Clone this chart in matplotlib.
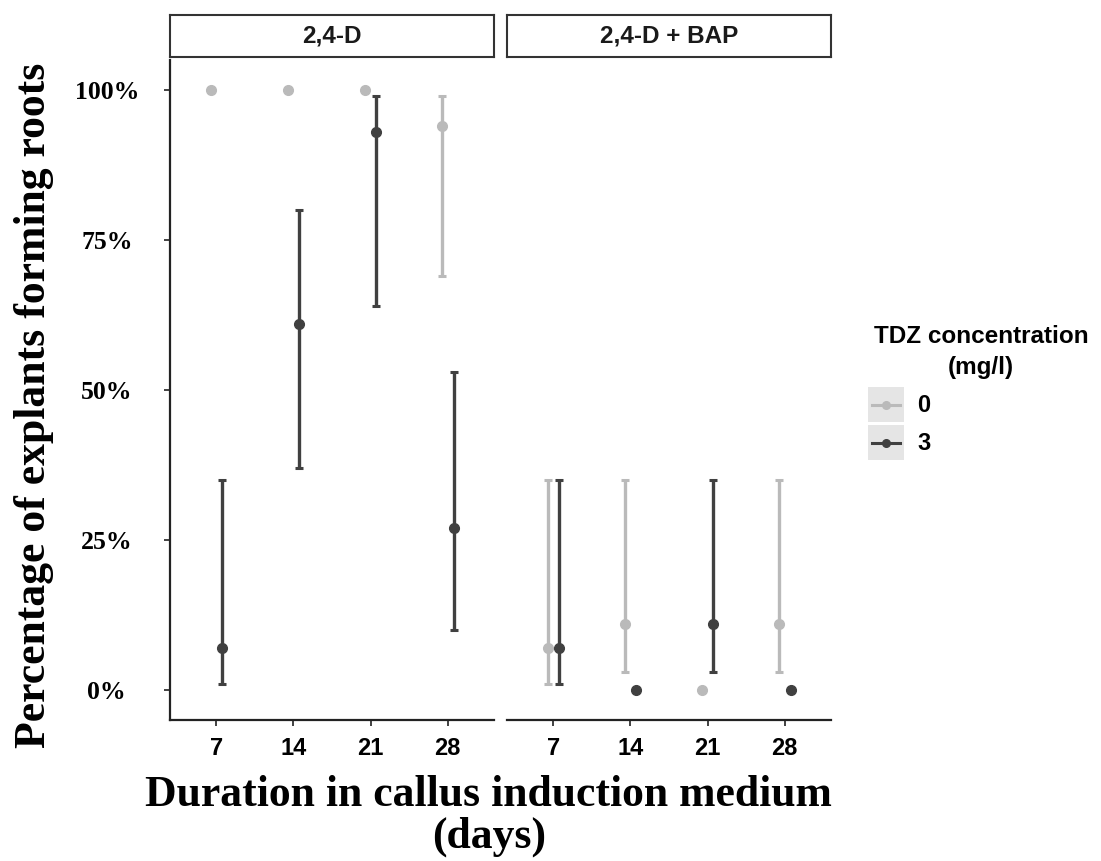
import matplotlib
matplotlib.use("Agg")
import matplotlib.pyplot as plt
from matplotlib.patches import Rectangle
from matplotlib.lines import Line2D

# ---- data -------------------------------------------------------------
days = ["7", "14", "21", "28"]
treatments = ["2,4-D", "2,4-D + BAP"]
tdz_levels = ["0", "3"]
legend_title = "TDZ concentration\n(mg/l)"

# percentage of explants forming roots
pct_24d_tdz0 = [100, 100, 100, 94]
pct_24d_tdz3 = [7, 61, 93, 27]
pct_bap_tdz0 = [7, 11, 0, 11]
pct_bap_tdz3 = [7, 0, 11, 0]

# lower / upper confidence limits (None = no interval)
lo_24d_tdz0 = [None, None, None, 69]
hi_24d_tdz0 = [None, None, None, 99]
lo_24d_tdz3 = [1, 37, 64, 10]
hi_24d_tdz3 = [35, 80, 99, 53]
lo_bap_tdz0 = [1, 3, None, 3]
hi_bap_tdz0 = [35, 35, None, 35]
lo_bap_tdz3 = [1, None, 3, None]
hi_bap_tdz3 = [35, None, 35, None]

y_ticks = [0, 25, 50, 75, 100]
y_ticklabels = ["0%", "25%", "50%", "75%", "100%"]

# ---- styling ------------------------------------------------------------
W, H = 1101, 861
col_tdz = {"0": "#BABABA", "3": "#404040"}
serif = "Liberation Serif"
sans = "Liberation Sans"
dodge = 0.075

fig = plt.figure(figsize=(W / 100, H / 100), dpi=100)


def box(l, t, r, b):
    return [l / W, 1 - b / H, (r - l) / W, (b - t) / H]


def draw_series(ax, xs, mean, lo, hi, color):
    for xi, m, l, h in zip(xs, mean, lo, hi):
        if l is not None:
            ax.errorbar([xi], [m], yerr=[[m - l], [h - m]], fmt="none",
                        ecolor=color, elinewidth=2.4, capsize=2.7,
                        capthick=2.2, zorder=2)
    ax.plot(xs, mean, "o", color=color, ms=7.0, ls="none", zorder=3)


panels = [
    (treatments[0], 170, 494,
     [(pct_24d_tdz0, lo_24d_tdz0, hi_24d_tdz0, "0"),
      (pct_24d_tdz3, lo_24d_tdz3, hi_24d_tdz3, "3")]),
    (treatments[1], 507, 831,
     [(pct_bap_tdz0, lo_bap_tdz0, hi_bap_tdz0, "0"),
      (pct_bap_tdz3, lo_bap_tdz3, hi_bap_tdz3, "3")]),
]

pos = list(range(1, len(days) + 1))
for i, (title, l, r, series) in enumerate(panels):
    ax = fig.add_axes(box(l, 60, r, 720))
    for mean, lo, hi, lvl in series:
        off = -dodge if lvl == "0" else dodge
        draw_series(ax, [p + off for p in pos], mean, lo, hi, col_tdz[lvl])
    ax.set_xlim(0.4, len(days) + 0.6)
    ax.set_ylim(-5, 105)
    ax.set_xticks(pos)
    ax.set_xticklabels(days, fontfamily=sans, fontweight="bold",
                       fontsize=17)
    ax.tick_params(axis="x", length=4.5, width=1.3, color="#333333",
                   pad=8)
    for s in ("top", "right"):
        ax.spines[s].set_visible(False)
    ax.spines["bottom"].set_linewidth(1.6)
    ax.spines["bottom"].set_color("#222222")
    if i == 0:
        ax.set_yticks(y_ticks)
        ax.set_yticklabels(y_ticklabels, fontfamily=serif,
                           fontweight="bold", fontsize=18.5, ha="center")
        ax.tick_params(axis="y", length=4.5, width=1.3, color="#333333",
                       pad=41)
        ax.spines["left"].set_linewidth(1.6)
        ax.spines["left"].set_color("#222222")
    else:
        ax.spines["left"].set_visible(False)
        ax.set_yticks([])

    # facet strip
    sax = fig.add_axes(box(l, 15, r, 57))
    sax.set_xticks([])
    sax.set_yticks([])
    for s in sax.spines.values():
        s.set_linewidth(1.5)
        s.set_color("#333333")
    sax.text(0.5, 0.5, title, ha="center", va="center", fontfamily=sans,
             fontweight="bold", fontsize=17.5, color="#1a1a1a",
             transform=sax.transAxes)

# ---- axis titles and legend (figure pixel space) -------------------------
ov = fig.add_axes([0, 0, 1, 1])
ov.set_xlim(0, W)
ov.set_ylim(H, 0)
ov.axis("off")

ov.text(34, 405, "Percentage of explants forming roots", rotation=90,
        ha="center", va="center", fontfamily=serif, fontweight="bold",
        fontsize=31.5)
ov.text(488, 795, "Duration in callus induction medium", ha="center",
        va="center", fontfamily=serif, fontweight="bold", fontsize=31.5)
ov.text(489, 837, "(days)", ha="center", va="center", fontfamily=serif,
        fontweight="bold", fontsize=31.5)

ov.text(981, 352, legend_title, ha="center", va="center", fontfamily=sans,
        fontweight="bold", fontsize=17.5, linespacing=1.45)
for k, lvl in enumerate(tdz_levels):
    top = 387 + k * 38
    ov.add_patch(Rectangle((868, top), 36, 35, facecolor="#E5E5E5",
                           edgecolor="none"))
    cy = top + 17.5
    ov.add_line(Line2D([872, 900], [cy, cy], color=col_tdz[lvl], lw=2.2))
    ov.plot([886], [cy], "o", color=col_tdz[lvl], ms=5.5)
    ov.text(917, cy + 1, lvl, ha="left", va="center", fontfamily=sans,
            fontweight="bold", fontsize=17)

fig.savefig("out.png", dpi=100, facecolor="white")
